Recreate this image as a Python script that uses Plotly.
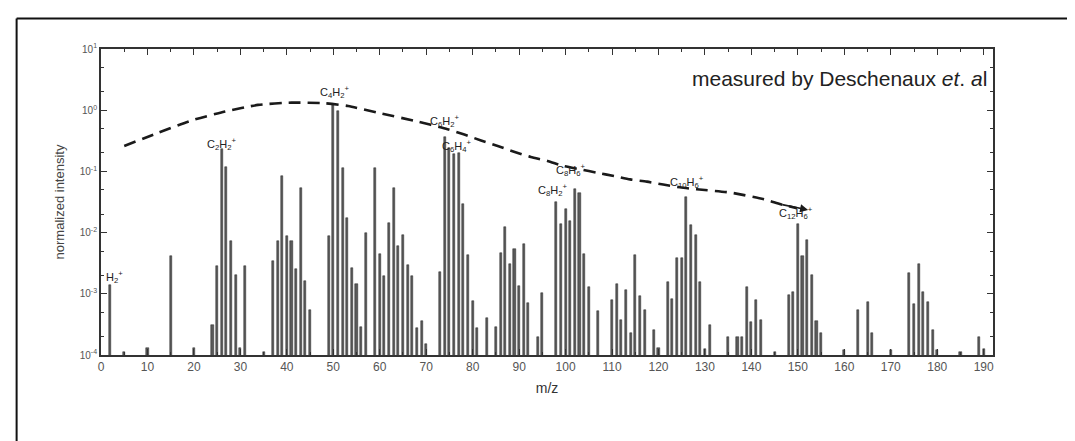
import math
import plotly.graph_objects as go

# ---- data ----
mz = [2, 5, 10, 15, 20, 24, 25, 26, 27, 28, 29, 30, 31, 35, 37, 38, 39, 40, 41, 42, 43, 44, 45,
      49, 50, 51, 52, 53, 54, 55, 56, 57, 59, 60, 61, 62, 63, 64, 65, 66, 67, 68, 69, 70,
      73, 74, 75, 76, 77, 78, 79, 80, 81, 83, 85, 86, 87, 88, 89, 90, 91, 92, 94, 95,
      98, 99, 100, 101, 102, 103, 104, 105, 107, 110, 111, 112, 113, 114, 115, 116, 117, 119, 120,
      122, 123, 124, 125, 126, 127, 128, 129, 130, 131, 135, 137, 138, 139, 140, 141, 142, 145,
      148, 149, 150, 151, 152, 153, 154, 155, 160, 163, 165, 166, 170,
      174, 175, 176, 177, 178, 179, 180, 185, 189, 190]
intensity = [1.4e-3, 1.1e-4, 1.3e-4, 4.1e-3, 1.3e-4, 3.1e-4, 2.8e-3, 0.23, 0.118, 7.2e-3, 2.06e-3, 1.3e-4, 2.8e-3,
             1.1e-4, 3.4e-3, 7.2e-3, 0.084, 8.8e-3, 7.2e-3, 2.5e-3, 0.054, 1.6e-3, 5.5e-4,
             8.8e-3, 1.25, 0.97, 0.115, 0.0175, 2.65e-3, 1.45e-3, 2.9e-4, 9.9e-3, 0.115, 4.5e-3, 1.94e-3,
             0.0145, 0.054, 6.0e-3, 9.3e-3, 3.0e-3, 1.94e-3, 2.8e-4, 3.6e-4, 1.5e-4,
             2.3e-3, 0.366, 0.244, 0.19, 0.202, 0.0288, 4.3e-3, 7.5e-4, 2.8e-4, 4.0e-4, 2.9e-4, 4.7e-3,
             0.0123, 3.1e-3, 5.3e-3, 1.33e-3, 6.4e-3, 7.1e-4, 2.0e-4, 1.04e-3,
             0.0319, 0.0139, 0.0239, 0.0154, 0.0507, 0.0448, 4.4e-3, 1.3e-3, 5.2e-4, 7.8e-4, 1.42e-3,
             3.7e-4, 1.17e-3, 2.3e-4, 4.3e-3, 9.1e-4, 5.5e-4, 2.6e-4, 1.3e-4,
             1.55e-3, 8.3e-4, 3.8e-3, 3.8e-3, 0.038, 0.0133, 9.0e-3, 1.57e-3, 1.27e-4, 3.1e-4, 2.0e-4,
             2.0e-4, 2.0e-4, 1.28e-3, 3.5e-4, 8.0e-4, 3.8e-4, 1.1e-4,
             9.7e-4, 1.07e-3, 0.0136, 4.1e-3, 7.5e-3, 2.0e-3, 3.6e-4, 2.3e-4, 1.2e-4, 5.5e-4, 7.3e-4,
             2.3e-4, 1.2e-4,
             2.2e-3, 6.9e-4, 3.1e-3, 1.07e-3, 7.3e-4, 2.6e-4, 1.2e-4, 1.1e-4, 2.0e-4, 1.25e-4]

envelope_x = [5, 12.4, 19.5, 26.7, 33.8, 41, 48.2, 53.2, 60.4, 67.5, 74.6, 78.2, 81.8, 85.4, 88.9,
              92.5, 96.1, 99.6, 103.2, 106.8, 110.4, 113.9, 117.5, 121, 124.6, 128.2, 135.5, 142.7,
              146.3, 149.8]
envelope_y = [0.26, 0.43, 0.68, 0.95, 1.22, 1.33, 1.30, 1.17, 0.88, 0.67, 0.49, 0.40, 0.32, 0.26, 0.21,
              0.172, 0.148, 0.122, 0.108, 0.095, 0.084, 0.074, 0.068, 0.061, 0.055, 0.051, 0.045, 0.035,
              0.029, 0.025]
arrow_tip = (152.2, 0.0235)

label_text = ["H<sub>2</sub><sup>+</sup>", "C<sub>2</sub>H<sub>2</sub><sup>+</sup>",
              "C<sub>4</sub>H<sub>2</sub><sup>+</sup>", "C<sub>6</sub>H<sub>2</sub><sup>+</sup>",
              "C<sub>6</sub>H<sub>4</sub><sup>+</sup>", "C<sub>8</sub>H<sub>6</sub><sup>+</sup>",
              "C<sub>8</sub>H<sub>2</sub><sup>+</sup>", "C<sub>10</sub>H<sub>6</sub><sup>+</sup>",
              "C<sub>12</sub>H<sub>6</sub><sup>+</sup>"]
label_x = [3.0, 25.9, 50.3, 73.9, 76.6, 101.1, 97.2, 126.2, 149.5]
label_y = [1.9e-3, 0.28, 1.95, 0.67, 0.26, 0.105, 0.049, 0.066, 0.021]

x_ticks = list(range(0, 191, 10))
y_tickvals = [1e-4, 1e-3, 1e-2, 1e-1, 1, 10]
y_ticktext = ["10<sup>-4</sup>", "10<sup>-3</sup>", "10<sup>-2</sup>", "10<sup>-1</sup>",
              "10<sup>0</sup>", "10<sup>1</sup>"]

FONT = "Liberation Sans, Arial, sans-serif"

fig = go.Figure()
fig.add_trace(go.Bar(
    x=mz, y=intensity, width=0.45,
    marker=dict(color="#5a5a5a", line=dict(color="#262626", width=0.5)),
    showlegend=False,
))
fig.add_trace(go.Scatter(
    x=envelope_x, y=envelope_y, mode="lines",
    line=dict(color="#1a1a1a", width=2.6, dash="12px,7px", shape="spline", smoothing=0.6),
    showlegend=False,
))

annotations = []
for t, lx, ly in zip(label_text, label_x, label_y):
    annotations.append(dict(x=lx, y=math.log10(ly), xref="x", yref="y", text=t, showarrow=False,
                            font=dict(family=FONT, size=11, color="#222")))
annotations.append(dict(x=arrow_tip[0], y=math.log10(arrow_tip[1]), xref="x", yref="y",
                        ax=envelope_x[-2], ay=math.log10(envelope_y[-2]), axref="x", ayref="y",
                        showarrow=True, arrowhead=2, arrowsize=1.0, arrowwidth=1.6,
                        arrowcolor="#1a1a1a", text=""))
annotations.append(dict(x=0.995, y=0.905, xref="paper", yref="paper", xanchor="right", yanchor="middle",
                        text="measured by Deschenaux <i>et</i>. <i>a</i>l", showarrow=False,
                        font=dict(family=FONT, size=21, color="#222")))

shapes = [
    dict(type="line", xref="paper", yref="paper", x0=-0.0946, x1=-0.0946, y0=1.1, y1=-0.4,
         line=dict(color="#111", width=2)),
    dict(type="line", xref="paper", yref="paper", x0=-0.0946, x1=1.2, y0=1.1, y1=1.1,
         line=dict(color="#111", width=2)),
]

fig.update_layout(
    width=1075, height=441,
    margin=dict(l=93, r=90, t=41, b=94),
    paper_bgcolor="white", plot_bgcolor="white",
    bargap=0,
    annotations=annotations, shapes=shapes,
    font=dict(family=FONT, color="#444"),
)
fig.update_xaxes(
    range=[0, 192], tickvals=x_ticks, ticks="inside", ticklen=6, tickwidth=1.2, tickcolor="#333",
    showline=True, linecolor="#333", linewidth=1.8, mirror="allticks", showgrid=False, zeroline=False,
    minor=dict(dtick=5, ticks="inside", ticklen=3, tickcolor="#333"),
    tickfont=dict(size=12, color="#555"),
    title=dict(text="m/z", font=dict(size=14, color="#333"), standoff=10),
)
fig.update_yaxes(
    type="log", range=[-4, 1], tickvals=y_tickvals, ticktext=y_ticktext,
    ticks="inside", ticklen=6, tickwidth=1.2, tickcolor="#333",
    showline=True, linecolor="#333", linewidth=1.8, mirror="allticks", showgrid=False, zeroline=False,
    minor=dict(ticks="inside", ticklen=3, tickcolor="#333", showgrid=False),
    tickfont=dict(size=10, color="#555"),
    title=dict(text="normalized intensity", font=dict(size=13, color="#444"), standoff=12),
)

fig.write_html("out.html")
